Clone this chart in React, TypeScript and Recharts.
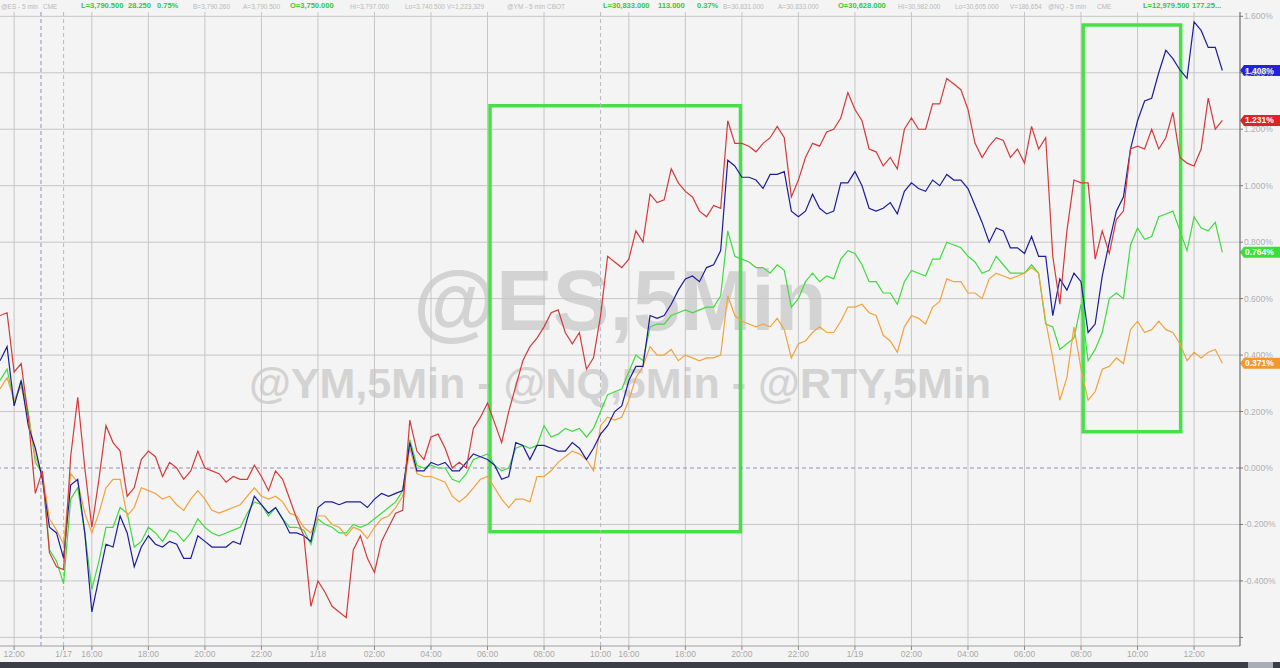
import React from "react";
import {
  LineChart,
  Line,
  XAxis,
  YAxis,
  CartesianGrid,
  ReferenceLine,
  ReferenceArea,
} from "recharts";

// % change since the left edge, one point per 15-minute bar
const esPct = [
  0.31, 0.35, 0.23, 0.31, 0.2, 0.02, -0.02, -0.29, -0.33, -0.41,
  -0.11, -0.07, -0.23, -0.43, -0.33, -0.21, -0.21, -0.14, -0.16, -0.28,
  -0.26, -0.21, -0.23, -0.26, -0.22, -0.23, -0.26, -0.23, -0.18, -0.21,
  -0.23, -0.24, -0.23, -0.22, -0.21, -0.16, -0.12, -0.13, -0.17, -0.14,
  -0.18, -0.21, -0.21, -0.22, -0.27, -0.18, -0.2, -0.21, -0.23, -0.23,
  -0.2, -0.21, -0.2, -0.18, -0.16, -0.14, -0.12, -0.08, 0.1, 0.01,
  0.0, 0.01, 0.0, 0.0, -0.04, -0.05, -0.02, 0.03, 0.04, 0.05,
  0.01, -0.01, 0.0, 0.07, 0.08, 0.07, 0.08, 0.15, 0.11, 0.12,
  0.14, 0.13, 0.14, 0.11, 0.14, 0.2, 0.26, 0.27, 0.28, 0.34,
  0.4, 0.38, 0.5, 0.51, 0.51, 0.54, 0.55, 0.56, 0.55, 0.56,
  0.57, 0.57, 0.61, 0.84, 0.75, 0.74, 0.73, 0.71, 0.71, 0.69,
  0.72, 0.7, 0.57, 0.6, 0.66, 0.69, 0.66, 0.68, 0.67, 0.74,
  0.77, 0.76, 0.72, 0.66, 0.66, 0.62, 0.62, 0.58, 0.66, 0.7,
  0.69, 0.68, 0.74, 0.74, 0.8, 0.79, 0.78, 0.75, 0.73, 0.69,
  0.7, 0.75, 0.72, 0.69, 0.69, 0.69, 0.72, 0.69, 0.51, 0.5,
  0.42, 0.44, 0.46, 0.58, 0.38, 0.42, 0.48, 0.6, 0.62, 0.6,
  0.79, 0.85, 0.81, 0.82, 0.89, 0.9, 0.91, 0.84, 0.77, 0.89,
  0.85, 0.84, 0.87, 0.764,
];

const ymPct = [
  0.28, 0.32, 0.24, 0.29, 0.18, 0.04, -0.02, -0.18, -0.22, -0.27,
  -0.02, -0.05, -0.16, -0.23, -0.16, -0.07, -0.04, -0.04, -0.17, -0.14,
  -0.07, -0.08, -0.09, -0.11, -0.1, -0.13, -0.15, -0.11, -0.08, -0.11,
  -0.15, -0.16, -0.15, -0.14, -0.13, -0.1, -0.07, -0.1, -0.11, -0.1,
  -0.12, -0.16, -0.17, -0.21, -0.23, -0.17, -0.17, -0.2, -0.21, -0.24,
  -0.21, -0.22, -0.25, -0.21, -0.18, -0.17, -0.14, -0.1, 0.07, -0.02,
  -0.03, -0.03, -0.04, -0.05, -0.1, -0.12, -0.1, -0.07, -0.04, -0.03,
  -0.07, -0.11, -0.14, -0.11, -0.11, -0.12, -0.03, -0.03, -0.01, 0.02,
  0.04, 0.06, 0.05, 0.03, -0.01, 0.15, 0.18, 0.17, 0.18, 0.24,
  0.32, 0.36, 0.43, 0.4, 0.4, 0.42, 0.38, 0.4, 0.39, 0.38,
  0.39, 0.39, 0.4, 0.61, 0.54, 0.52, 0.51, 0.5, 0.51, 0.5,
  0.53, 0.49, 0.39, 0.44, 0.45, 0.48, 0.5, 0.48, 0.48, 0.52,
  0.57, 0.57, 0.58, 0.55, 0.54, 0.47, 0.45, 0.41, 0.5, 0.54,
  0.53, 0.51, 0.57, 0.59, 0.67, 0.66, 0.66, 0.62, 0.62, 0.6,
  0.67, 0.69, 0.68, 0.67, 0.68, 0.69, 0.71, 0.69, 0.52, 0.39,
  0.24, 0.32, 0.5, 0.35, 0.24, 0.27, 0.35, 0.36, 0.39, 0.37,
  0.49, 0.52, 0.48, 0.49, 0.52, 0.49, 0.48, 0.44, 0.38, 0.41,
  0.39, 0.41, 0.42, 0.371,
];

const nqPct = [
  0.38, 0.43, 0.22, 0.31, 0.15, 0.07, -0.04, -0.21, -0.23, -0.32,
  -0.06, -0.04, -0.23, -0.51, -0.39, -0.27, -0.28, -0.17, -0.23, -0.35,
  -0.28, -0.24, -0.27, -0.28, -0.26, -0.27, -0.32, -0.32, -0.24, -0.26,
  -0.28, -0.28, -0.28, -0.26, -0.27, -0.18, -0.1, -0.13, -0.16, -0.14,
  -0.18, -0.23, -0.23, -0.24, -0.26, -0.14, -0.12, -0.12, -0.13, -0.12,
  -0.12, -0.12, -0.14, -0.11, -0.09, -0.1, -0.09, -0.08, 0.09, -0.01,
  -0.01, 0.02, 0.01, 0.02, -0.01, -0.01, 0.02, 0.05, 0.04, 0.03,
  0.01, -0.04, -0.03, 0.09, 0.08, 0.03, 0.08, 0.08, 0.07, 0.06,
  0.06, 0.09, 0.07, 0.03, 0.07, 0.12, 0.15, 0.2, 0.22, 0.31,
  0.36, 0.36, 0.54, 0.53, 0.54, 0.58, 0.63, 0.67, 0.68, 0.66,
  0.71, 0.72, 0.77, 1.09, 1.07, 1.03, 1.03, 1.02, 0.99, 1.04,
  1.04, 1.05, 0.91, 0.89, 0.91, 0.97, 0.92, 0.9, 0.91, 1.01,
  1.01, 1.05, 1.0, 0.92, 0.91, 0.92, 0.94, 0.9, 0.98, 1.01,
  0.99, 0.98, 1.02, 1.0, 1.04, 1.02, 1.02, 0.99, 0.93, 0.87,
  0.8, 0.85, 0.84, 0.78, 0.78, 0.76, 0.82, 0.75, 0.75, 0.54,
  0.67, 0.63, 0.69, 0.66, 0.48, 0.51, 0.68, 0.8, 0.91, 0.96,
  1.13, 1.23, 1.3, 1.31, 1.4, 1.48, 1.45, 1.41, 1.38, 1.58,
  1.55, 1.49, 1.49, 1.408,
];

const rtyPct = [
  0.54, 0.55, 0.34, 0.37, 0.18, -0.09, -0.01, -0.3, -0.35, -0.36,
  0.04, 0.25, 0.0, -0.21, -0.04, 0.15, 0.09, 0.06, -0.1, -0.07,
  0.03, 0.06, 0.04, -0.03, 0.02, 0.0, -0.04, -0.01, 0.06, 0.0,
  -0.01, -0.02, -0.05, -0.03, -0.04, -0.04, 0.01, -0.03, -0.08, -0.01,
  -0.04, -0.11, -0.18, -0.24, -0.49, -0.4, -0.44, -0.49, -0.51, -0.53,
  -0.29, -0.24, -0.32, -0.37, -0.26, -0.21, -0.16, -0.15, 0.17, 0.06,
  0.03, 0.11, 0.12, 0.07, 0.0, 0.02, 0.0, 0.14, 0.18, 0.23,
  0.16, 0.09, 0.2, 0.29, 0.38, 0.43, 0.46, 0.5, 0.55, 0.56,
  0.48, 0.44, 0.48, 0.35, 0.39, 0.54, 0.75, 0.73, 0.71, 0.74,
  0.84, 0.8, 0.97, 0.94, 0.95, 1.06, 1.01, 0.98, 0.96, 0.91,
  0.89, 0.93, 0.92, 1.23, 1.15, 1.15, 1.14, 1.12, 1.15, 1.17,
  1.21, 1.17, 0.96, 1.02, 1.1, 1.15, 1.14, 1.19, 1.2, 1.24,
  1.33, 1.27, 1.23, 1.13, 1.12, 1.07, 1.1, 1.06, 1.2, 1.24,
  1.2, 1.2, 1.29, 1.29, 1.38, 1.36, 1.34, 1.27, 1.15, 1.1,
  1.14, 1.17, 1.16, 1.1, 1.13, 1.08, 1.21, 1.13, 1.17, 0.75,
  0.58, 0.84, 1.02, 1.01, 1.01, 0.74, 0.84, 0.76, 0.88, 0.91,
  1.13, 1.14, 1.13, 1.2, 1.13, 1.17, 1.26, 1.1, 1.08, 1.07,
  1.13, 1.31, 1.2, 1.231,
];

// time axis: label text and the bar it sits on
const tickLabels = [
  "12:00", "1/17", "16:00", "18:00", "20:00", "22:00", "1/18", "02:00",
  "04:00", "06:00", "08:00", "10:00", "16:00", "18:00", "20:00", "22:00",
  "1/19", "02:00", "04:00", "06:00", "08:00", "10:00", "12:00",
];
const tickBars = [
  2, 9, 13, 21, 29, 37, 45, 53, 61, 69, 77, 85, 89, 97, 105, 113, 121, 129,
  137, 145, 153, 161, 169,
];
const sessionBreaks = [5.8, 9, 85];

const yTicks = [-0.6, -0.4, -0.2, 0, 0.2, 0.4, 0.6, 0.8, 1.0, 1.2, 1.4, 1.6];

// highlighted windows drawn on the chart
const boxes = [
  { x1: 69.35, x2: 104.8, y1: -0.226, y2: 1.283 },
  { x1: 153.3, x2: 167.1, y1: 0.128, y2: 1.569 },
];

const header = [
  { t: "@ES - 5 min", x: 1, g: false },
  { t: "CME", x: 43, g: false },
  { t: "L=3,790.500", x: 81, g: true },
  { t: "28.250", x: 128, g: true },
  { t: "0.75%", x: 157, g: true },
  { t: "B=3,790.260", x: 193, g: false },
  { t: "A=3,790.500", x: 243, g: false },
  { t: "O=3,750.000", x: 290, g: true },
  { t: "Hi=3,797.000", x: 350, g: false },
  { t: "Lo=3,740.500", x: 405, g: false },
  { t: "V=1,223,329", x: 447, g: false },
  { t: "@YM - 5 min", x: 507, g: false },
  { t: "CBOT", x: 547, g: false },
  { t: "L=30,833.000", x: 603, g: true },
  { t: "113.000", x: 658, g: true },
  { t: "0.37%", x: 697, g: true },
  { t: "B=30,831.000", x: 723, g: false },
  { t: "A=30,833.000", x: 778, g: false },
  { t: "O=30,628.000", x: 838, g: true },
  { t: "Hi=30,982.000", x: 898, g: false },
  { t: "Lo=30,605.000", x: 955, g: false },
  { t: "V=186,654", x: 1010, g: false },
  { t: "@NQ - 5 min", x: 1048, g: false },
  { t: "CME", x: 1097, g: false },
  { t: "L=12,979.500", x: 1143, g: true },
  { t: "177.25...", x: 1192, g: true },
];

const series = [
  { key: "es", vals: esPct, color: "#3fdc3f" },
  { key: "ym", vals: ymPct, color: "#f2a23e" },
  { key: "nq", vals: nqPct, color: "#1c1c9c" },
  { key: "rty", vals: rtyPct, color: "#d43a3a" },
];
const tagColors: Record<string, string> = {
  es: "#38e038",
  ym: "#f5982c",
  nq: "#2222dd",
  rty: "#e02424",
};

const data = esPct.map((_, i) => {
  const row: Record<string, number> = { i };
  series.forEach((s) => (row[s.key] = s.vals[i]));
  return row;
});

const font = "Arial, 'Liberation Sans', Helvetica, sans-serif";

function Tag(props: any) {
  const { viewBox, text, fill } = props;
  if (!viewBox) return null;
  const x = viewBox.x + viewBox.width;
  const y = viewBox.y;
  return (
    <g>
      <path
        d={`M${x} ${y} L${x + 4} ${y - 5.5} H${x + 40} V${y + 5.5} H${x + 4} Z`}
        fill={fill}
      />
      <text
        x={x + 5}
        y={y + 3}
        fill="#fff"
        fontSize={8.5}
        fontWeight="bold"
        fontFamily={font}
      >
        {text}
      </text>
    </g>
  );
}

export default function App() {
  return (
    <div
      style={{
        position: "fixed",
        left: 0,
        top: 0,
        width: 1280,
        height: 668,
        overflow: "hidden",
        background: "#f4f4f4",
        fontFamily: font,
      }}
    >
      {/* watermark */}
      <div
        style={{
          position: "absolute",
          left: 0,
          top: 258,
          width: 1240,
          textAlign: "center",
          fontSize: 85,
          fontWeight: "bold",
          lineHeight: 1,
          color: "#d3d3d3",
        }}
      >
        @ES,5Min
      </div>
      <div
        style={{
          position: "absolute",
          left: 0,
          top: 362,
          width: 1240,
          textAlign: "center",
          fontSize: 43,
          fontWeight: "bold",
          lineHeight: 1,
          color: "#d3d3d3",
          whiteSpace: "pre",
        }}
      >
        @YM,5Min - @NQ,5Min - @RTY,5Min
      </div>

      <div style={{ position: "absolute", left: 0, top: 0 }}>
        <LineChart
          width={1280}
          height={668}
          data={data}
          margin={{ top: 12, right: 0, bottom: 0, left: 0 }}
        >
          <CartesianGrid
            stroke="#c6c6c6"
            horizontalValues={yTicks.filter((v) => v !== 0)}
            verticalValues={tickBars.filter((b) => !sessionBreaks.includes(b))}
          />
          <XAxis
            type="number"
            dataKey="i"
            domain={[0, 175.5]}
            allowDataOverflow
            ticks={tickBars}
            interval={0}
            height={22}
            tickSize={4}
            tickMargin={1}
            tickFormatter={(v: number) => tickLabels[tickBars.indexOf(v)] ?? ""}
            tick={{ fill: "#a9a9a9", fontSize: 8.5, fontFamily: font }}
            tickLine={{ stroke: "#8a8a8a" }}
            axisLine={{ stroke: "#a0a0a0" }}
          />
          <YAxis
            orientation="right"
            type="number"
            domain={[-0.6305, 1.6153]}
            allowDataOverflow
            ticks={yTicks}
            interval={0}
            width={40}
            tickSize={3}
            tickMargin={1}
            tickFormatter={(v: number) => (v < -0.5 ? "" : v.toFixed(3) + "%")}
            tick={{ fill: "#b0b0b0", fontSize: 8.5, fontFamily: font }}
            tickLine={{ stroke: "#777" }}
            axisLine={{ stroke: "#555" }}
          />
          {sessionBreaks.map((b, k) => (
            <ReferenceLine
              key={"sb" + k}
              x={b}
              stroke={k === 0 ? "#8f93b4" : "#b8b8c4"}
              strokeDasharray="4 3"
            />
          ))}
          <ReferenceLine y={0} stroke="#8f93b4" strokeDasharray="4 3" />
          {series.map((s) => (
            <Line
              key={s.key}
              type="linear"
              dataKey={s.key}
              stroke={s.color}
              strokeWidth={1.2}
              dot={false}
              isAnimationActive={false}
            />
          ))}
          {boxes.map((b, k) => (
            <ReferenceArea
              key={"box" + k}
              x1={b.x1}
              x2={b.x2}
              y1={b.y1}
              y2={b.y2}
              fill="none"
              stroke="#48e048"
              strokeWidth={3.5}
              ifOverflow="visible"
            />
          ))}
          {series.map((s) => {
            const last = s.vals[s.vals.length - 1];
            return (
              <ReferenceLine
                key={"tag" + s.key}
                y={last}
                stroke="none"
                label={(p: any) => (
                  <Tag
                    {...p}
                    text={last.toFixed(3) + "%"}
                    fill={tagColors[s.key]}
                  />
                )}
              />
            );
          })}
        </LineChart>
      </div>

      {/* quote strip along the top */}
      {header.map((h, k) => (
        <span
          key={k}
          style={{
            position: "absolute",
            top: h.g ? 1 : 1.5,
            left: h.x,
            fontSize: h.g ? 7.5 : 6.5,
            lineHeight: "9px",
            whiteSpace: "pre",
            color: h.g ? "#34c934" : "#b9b9b9",
            fontWeight: h.g ? "bold" : "normal",
          }}
        >
          {h.t}
        </span>
      ))}

      {/* bottom scrollbar strip */}
      <div
        style={{
          position: "absolute",
          left: 0,
          top: 662,
          width: 1280,
          height: 6,
          background: "#3b3e46",
        }}
      />
      <div
        style={{
          position: "absolute",
          left: 1248,
          top: 662,
          width: 25,
          height: 6,
          background: "#a9adb6",
        }}
      />
    </div>
  );
}
